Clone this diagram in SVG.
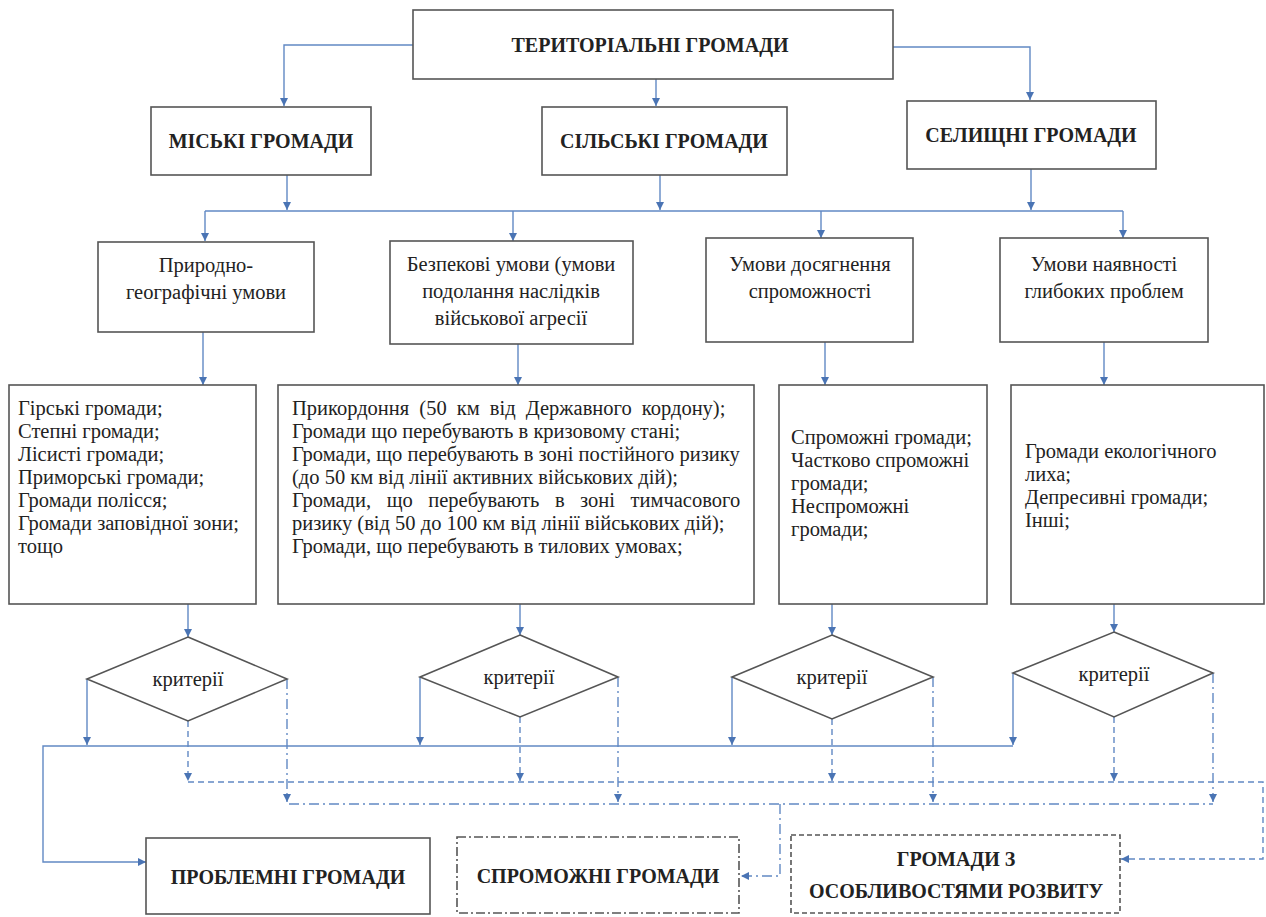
<svg xmlns="http://www.w3.org/2000/svg" width="1266" height="917" viewBox="0 0 1266 917" font-family="'Liberation Serif', 'Times New Roman', Tinos, 'DejaVu Serif', serif">
<style>
.box{fill:#fff;stroke:#555;stroke-width:1.6}
.dbox{fill:#fff;stroke:#555;stroke-width:1.6;stroke-dasharray:5 3}
.ddbox{fill:#fff;stroke:#555;stroke-width:1.6;stroke-dasharray:9 3 2 3}
.t{font-family:'Liberation Serif','Times New Roman',Tinos,'DejaVu Serif',serif;font-size:20.5px;fill:#222}
.b{font-weight:bold;text-anchor:middle;font-size:20px}
.c{text-anchor:middle}
.ln{fill:none;stroke:#6189c4;stroke-width:1.4}
.dash{stroke-dasharray:6 4}
.dd{stroke-dasharray:10 4 2 4}
</style>
<defs>
<marker id="ah" markerWidth="9" markerHeight="8" refX="8" refY="4" orient="auto" markerUnits="userSpaceOnUse">
<path d="M0,0 L8,4 L0,8 z" fill="#4a74b4"/>
</marker>
</defs>
<g id="connectors">
<path class="ln" d="M413,45 H284 V106" marker-end="url(#ah)"/>
<path class="ln" d="M656,79 V106" marker-end="url(#ah)"/>
<path class="ln" d="M893,47 H1030 V100" marker-end="url(#ah)"/>
<path class="ln" d="M287,175 V210" marker-end="url(#ah)"/>
<path class="ln" d="M660,175 V210" marker-end="url(#ah)"/>
<path class="ln" d="M1031,169 V210" marker-end="url(#ah)"/>
<path class="ln" d="M205,211 H1123"/>
<path class="ln" d="M205,211 V241" marker-end="url(#ah)"/>
<path class="ln" d="M513,211 V241" marker-end="url(#ah)"/>
<path class="ln" d="M821,211 V238" marker-end="url(#ah)"/>
<path class="ln" d="M1123,211 V238" marker-end="url(#ah)"/>
<path class="ln" d="M203,332 V385" marker-end="url(#ah)"/>
<path class="ln" d="M518,344 V385" marker-end="url(#ah)"/>
<path class="ln" d="M825,342 V385" marker-end="url(#ah)"/>
<path class="ln" d="M1104,342 V385" marker-end="url(#ah)"/>
<path class="ln" d="M188,604 V637" marker-end="url(#ah)"/>
<path class="ln" d="M520,604 V635" marker-end="url(#ah)"/>
<path class="ln" d="M832,604 V635" marker-end="url(#ah)"/>
<path class="ln" d="M1114,604 V632" marker-end="url(#ah)"/>
<path class="ln" d="M87,679 V745" marker-end="url(#ah)"/>
<path class="ln" d="M420,677 V745" marker-end="url(#ah)"/>
<path class="ln" d="M732,677 V745" marker-end="url(#ah)"/>
<path class="ln" d="M1013,673 V745" marker-end="url(#ah)"/>
<path class="ln" d="M1013,746 H43 V862 H146" marker-end="url(#ah)"/>
<path class="ln dash" d="M188,721 V781" marker-end="url(#ah)"/>
<path class="ln dash" d="M520,717 V781" marker-end="url(#ah)"/>
<path class="ln dash" d="M832,719 V781" marker-end="url(#ah)"/>
<path class="ln dash" d="M1114,717 V781" marker-end="url(#ah)"/>
<path class="ln dash" d="M188,782 H1263 V859 H1121" marker-end="url(#ah)"/>
<path class="ln dd" d="M287,679 V802" marker-end="url(#ah)"/>
<path class="ln dd" d="M618,677 V802" marker-end="url(#ah)"/>
<path class="ln dd" d="M933,677 V802" marker-end="url(#ah)"/>
<path class="ln dd" d="M1213,673 V802" marker-end="url(#ah)"/>
<path class="ln dd" d="M289,804 H1213"/>
<path class="ln dd" d="M780,804 V876 H741" marker-end="url(#ah)"/>
</g>
<g id="n-territorial">
<rect class="box" x="413" y="10" width="480" height="69"/>
<text class="t b" x="650" y="52">ТЕРИТОРІАЛЬНІ ГРОМАДИ</text>
</g>
<g id="n-miski">
<rect class="box" x="151" y="107" width="220" height="68"/>
<text class="t b" x="261" y="148">МІСЬКІ ГРОМАДИ</text>
</g>
<g id="n-silski">
<rect class="box" x="542" y="107" width="245" height="68"/>
<text class="t b" x="664" y="148">СІЛЬСЬКІ ГРОМАДИ</text>
</g>
<g id="n-selyshchni">
<rect class="box" x="907" y="101" width="249" height="68"/>
<text class="t b" x="1031" y="142">СЕЛИЩНІ ГРОМАДИ</text>
</g>
<g id="n-pryrodni">
<rect class="box" x="98" y="242" width="216" height="90"/>
<text class="t c" x="206" y="272">Природно-</text>
<text class="t c" x="206" y="299">географічні умови</text>
</g>
<g id="n-bezpekovi">
<rect class="box" x="390" y="241" width="243" height="103"/>
<text class="t c" x="511" y="271">Безпекові умови (умови</text>
<text class="t c" x="511" y="298">подолання наслідків</text>
<text class="t c" x="511" y="325">військової агресії</text>
</g>
<g id="n-spromozhnist">
<rect class="box" x="706" y="238" width="207" height="104"/>
<text class="t c" x="810" y="271">Умови досягнення</text>
<text class="t c" x="810" y="298">спроможності</text>
</g>
<g id="n-problemy">
<rect class="box" x="1000" y="238" width="208" height="104"/>
<text class="t c" x="1104" y="271">Умови наявності</text>
<text class="t c" x="1104" y="298">глибоких проблем</text>
</g>
<g id="n-list-a">
<rect class="box" x="9" y="385" width="247" height="219"/>
<text class="t" x="18" y="415">Гірські громади;</text>
<text class="t" x="18" y="438">Степні громади;</text>
<text class="t" x="18" y="461">Лісисті громади;</text>
<text class="t" x="18" y="484">Приморські громади;</text>
<text class="t" x="18" y="507">Громади полісся;</text>
<text class="t" x="18" y="530">Громади заповідної зони;</text>
<text class="t" x="18" y="553">тощо</text>
</g>
<g id="n-list-b">
<rect class="box" x="278" y="385" width="476" height="219"/>
<text class="t" x="292" y="415" word-spacing="5">Прикордоння (50 км від Державного  кордону);</text>
<text class="t" x="292" y="438">Громади що перебувають в кризовому стані;</text>
<text class="t" x="292" y="461">Громади, що перебувають в зоні постійного ризику</text>
<text class="t" x="292" y="484">(до 50 км від лінії активних військових дій);</text>
<text class="t" x="292" y="507" word-spacing="10.4">Громади, що перебувають в зоні тимчасового</text>
<text class="t" x="292" y="530">ризику (від 50 до 100 км від лінії військових дій);</text>
<text class="t" x="292" y="553">Громади, що перебувають в тилових умовах;</text>
</g>
<g id="n-list-c">
<rect class="box" x="779" y="385" width="208" height="219"/>
<text class="t" x="791" y="444">Спроможні громади;</text>
<text class="t" x="791" y="467">Частково спроможні</text>
<text class="t" x="791" y="490">громади;</text>
<text class="t" x="791" y="513">Неспроможні</text>
<text class="t" x="791" y="536">громади;</text>
</g>
<g id="n-list-d">
<rect class="box" x="1011" y="385" width="253" height="219"/>
<text class="t" x="1025" y="458">Громади екологічного</text>
<text class="t" x="1025" y="481">лиха;</text>
<text class="t" x="1025" y="504">Депресивні громади;</text>
<text class="t" x="1025" y="527">Інші;</text>
</g>
<g id="n-crit-a">
<polygon class="box" points="188,637 287,679 188,721 87,679"/>
<text class="t c" x="188" y="686">критерії</text>
</g>
<g id="n-crit-b">
<polygon class="box" points="520,635 618,677 520,717 420,677"/>
<text class="t c" x="519" y="684">критерії</text>
</g>
<g id="n-crit-c">
<polygon class="box" points="832,635 933,677 832,719 732,677"/>
<text class="t c" x="832" y="684">критерії</text>
</g>
<g id="n-crit-d">
<polygon class="box" points="1114,632 1213,673 1114,717 1013,673"/>
<text class="t c" x="1114" y="681">критерії</text>
</g>
<g id="n-problemni">
<rect class="box" x="146" y="838" width="284" height="76"/>
<text class="t b" x="288" y="884">ПРОБЛЕМНІ ГРОМАДИ</text>
</g>
<g id="n-spromozhni">
<rect class="ddbox" x="457" y="837" width="282" height="76"/>
<text class="t b" x="598" y="883">СПРОМОЖНІ ГРОМАДИ</text>
</g>
<g id="n-osoblyvosti">
<rect class="dbox" x="791" y="835" width="329" height="78"/>
<text class="t b" x="956" y="866">ГРОМАДИ З</text>
<text class="t b" x="956" y="898">ОСОБЛИВОСТЯМИ РОЗВИТУ</text>
</g>
</svg>
